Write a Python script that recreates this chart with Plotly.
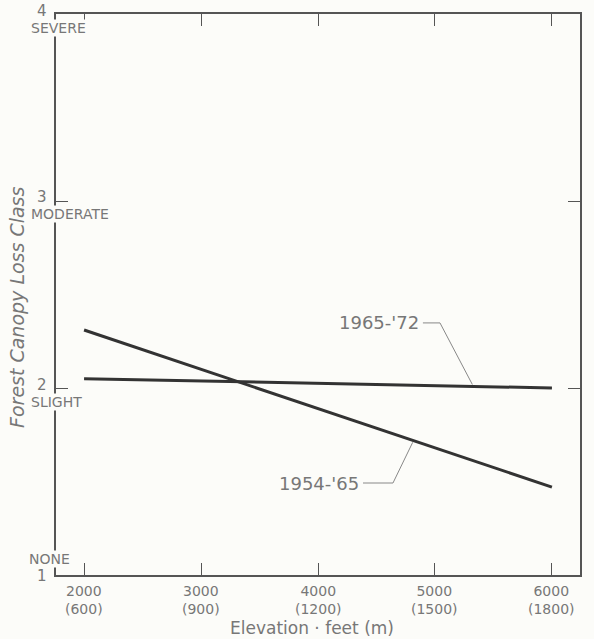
import numpy as np
import plotly.graph_objects as go

# ---- data ----
elev_ft = [2000, 6000]
loss_1954_65 = [2.31, 1.47]
loss_1965_72 = [2.05, 2.00]

x_tick_vals = [2000, 3000, 4000, 5000, 6000]
x_tick_ft = ["2000", "3000", "4000", "5000", "6000"]
x_tick_m = ["(600)", "(900)", "(1200)", "(1500)", "(1800)"]
y_tick_vals = [4, 3, 2, 1]
y_tick_num = ["4", "3", "2", "1"]
y_tick_class = ["SEVERE", "MODERATE", "SLIGHT", "NONE"]

BG = "#fcfcf9"
INK = "#333333"
TXT = "#777777"
FONT = "DejaVu Sans"

fig = go.Figure()

fig.add_trace(go.Scatter(x=elev_ft, y=loss_1954_65, mode="lines",
                         line=dict(color=INK, width=3), showlegend=False, hoverinfo="skip"))
fig.add_trace(go.Scatter(x=elev_ft, y=loss_1965_72, mode="lines",
                         line=dict(color=INK, width=3), showlegend=False, hoverinfo="skip"))

# leader lines from labels to series
def on_line(xv, ys):
    return float(np.interp(xv, elev_ft, ys))

lead72_x = [4897, 5043, 5320]
lead72_y = [2.348, 2.348, on_line(5320, loss_1965_72) + 0.01]
lead65_x = [4385, 4641, 4810]
lead65_y = [1.492, 1.492, on_line(4810, loss_1954_65) - 0.01]
for lx, ly in [(lead72_x, lead72_y), (lead65_x, lead65_y)]:
    fig.add_trace(go.Scatter(x=lx, y=ly, mode="lines",
                             line=dict(color="#888888", width=1), showlegend=False, hoverinfo="skip"))

ann = []
ann.append(dict(x=4880, y=2.348, xref="x", yref="y", text="1965-'72", showarrow=False,
                xanchor="right", yanchor="middle", font=dict(family=FONT, size=18, color=TXT)))
ann.append(dict(x=4370, y=1.492, xref="x", yref="y", text="1954-'65", showarrow=False,
                xanchor="right", yanchor="middle", font=dict(family=FONT, size=18, color=TXT)))

# y tick labels: number + class name
num_shifts = {4: 3, 3: 4, 2: 3, 1: -1}
cls_shifts = {4: -14, 3: -13, 2: -14, 1: 16}
for v, num, cls in zip(y_tick_vals, y_tick_num, y_tick_class):
    ann.append(dict(x=-0.014, y=v, xref="paper", yref="y", text=num, showarrow=False,
                    xanchor="right", yanchor="middle", yshift=num_shifts[v],
                    font=dict(family=FONT, size=15, color=TXT)))
    ann.append(dict(x=-0.049 if v != 1 else -0.054, y=v, xref="paper", yref="y", text=cls,
                    showarrow=False, xanchor="left", yanchor="middle", yshift=cls_shifts[v],
                    bgcolor=BG, borderpad=0,
                    font=dict(family=FONT, size=14, color=TXT)))

# x tick labels: feet and metres on two lines
for v, ft, m in zip(x_tick_vals, x_tick_ft, x_tick_m):
    ann.append(dict(x=v, y=-0.0445, xref="x", yref="paper", text=ft + "<br>" + m,
                    showarrow=False, xanchor="center", yanchor="middle",
                    font=dict(family=FONT, size=14, color=TXT)))

# axis titles
ann.append(dict(x=0.488, y=-0.0945, xref="paper", yref="paper", text="Elevation · feet (m)",
                showarrow=False, xanchor="center", yanchor="middle",
                font=dict(family=FONT, size=17, color=TXT)))
ann.append(dict(x=-0.0744, y=0.476, xref="paper", yref="paper",
                text="<i>Forest Canopy Loss Class</i>", textangle=-90,
                showarrow=False, xanchor="center", yanchor="middle",
                font=dict(family=FONT, size=19, color=TXT)))

fig.update_layout(
    width=594, height=639,
    margin=dict(l=56, r=14, t=14, b=64),
    paper_bgcolor=BG, plot_bgcolor=BG,
    annotations=ann,
    showlegend=False,
)
fig.update_xaxes(range=[1760, 6240], tickvals=x_tick_vals, showticklabels=False,
                 ticks="inside", ticklen=12, tickwidth=1.2, tickcolor="#555555",
                 showline=True, linecolor="#555555", linewidth=2, mirror="ticks",
                 showgrid=False, zeroline=False)
fig.update_yaxes(range=[1, 4], tickvals=y_tick_vals, showticklabels=False,
                 ticks="inside", ticklen=12, tickwidth=1.2, tickcolor="#555555",
                 showline=True, linecolor="#555555", linewidth=2, mirror="ticks",
                 showgrid=False, zeroline=False)

fig.write_html("out.html")
